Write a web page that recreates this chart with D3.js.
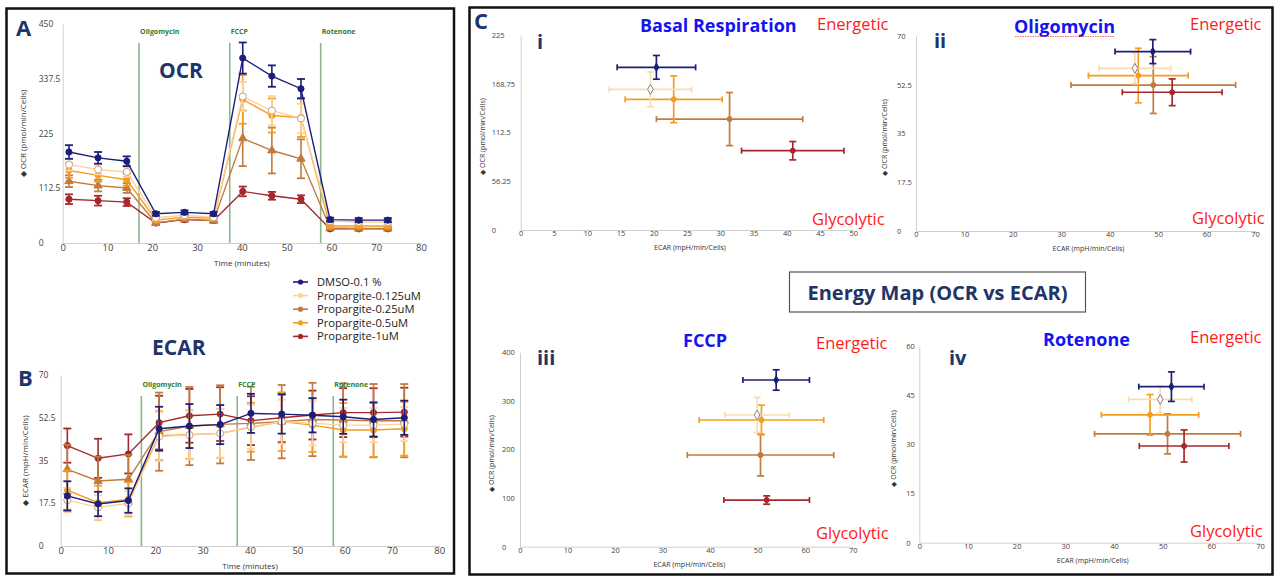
<!DOCTYPE html>
<html>
<head>
<meta charset="utf-8">
<script src="https://cdn.jsdelivr.net/npm/d3@7"></script>
<style>
  body { margin: 0; background: #fff; }
  svg text { font-family: "Open Sans", sans-serif; }
</style>
</head>
<body>
<svg id="fig" width="1276" height="577"></svg>
<script>
// groups (same order everywhere)
var groups = ["DMSO-0.1 %", "Propargite-0.125uM", "Propargite-0.25uM", "Propargite-0.5uM", "Propargite-1uM"]
var colors = ["#1c1f7a", "#fcd39e", "#c27b3d", "#f59d1f", "#a5282c"]

// time course (minutes)
var times = [1.4, 7.9, 14.3, 20.8, 27.2, 33.7, 40.2, 46.7, 53.2, 59.7, 66.1, 72.6]
var injections = ["Oligomycin", "FCCP", "Rotenone"]
var injectTimes = [17.05, 37.3, 57.6]

// OCR (pmol/min/Cells)
var ocrDmso = [187, 175, 168, 60, 63, 60, 380, 343, 317, 48, 47, 47]
var ocr0125 = [161, 151, 146, 52, 57, 53, 301, 272, 256, 45, 43, 43]
var ocr025  = [127, 118, 113, 41, 49, 46, 215, 190, 173, 31, 30, 30]
var ocr05   = [149, 139, 130, 47, 53, 51, 295, 262, 258, 35, 35, 35]
var ocr1    = [90, 87, 84, 41, 48, 46, 106, 97, 90, 29, 29, 29]
var ocrErrDmso = [14, 12, 10, 4, 4, 4, 32, 22, 20, 4, 4, 4]
var ocrErr0125 = [12, 10, 10, 5, 5, 5, 30, 30, 30, 5, 5, 5]
var ocrErr025  = [12, 12, 10, 4, 4, 4, 57, 47, 40, 4, 4, 4]
var ocrErr05   = [15, 13, 12, 4, 4, 4, 50, 35, 40, 4, 4, 4]
var ocrErr1    = [10, 10, 8, 4, 4, 4, 10, 8, 8, 3, 3, 3]

// ECAR (mpH/min/Cells)
var ecarDmso = [20.5, 17.2, 18.6, 48.0, 49.1, 49.7, 54.3, 54.0, 53.5, 52.9, 51.8, 52.5]
var ecar0125 = [18.8, 15.8, 17.5, 44.8, 45.4, 46.1, 48.8, 50.9, 50.2, 49.5, 49.5, 49.9]
var ecar025  = [31.4, 26.6, 27.3, 46.8, 49.1, 49.8, 50.2, 50.9, 51.8, 51.6, 51.3, 51.3]
var ecar05   = [22.9, 17.7, 19.1, 45.2, 45.6, 46.1, 48.6, 50.9, 49.5, 47.5, 47.5, 48.0]
var ecar1    = [41.1, 35.9, 37.7, 50.5, 53.3, 54.0, 51.3, 52.5, 53.6, 54.6, 54.6, 54.8]
var ecarErrDmso = [6, 5, 5, 9, 9, 8, 8, 8, 7, 7, 7, 7]
var ecarErr0125 = [5, 5, 5, 10, 10, 10, 9, 9, 9, 7, 7, 7]
var ecarErr025  = [10, 10, 10, 16, 16, 16, 15, 15, 15, 15, 15, 15]
var ecarErr05   = [8, 7, 7, 10, 10, 10, 10, 12, 11, 11, 11, 11]
var ecarErr1    = [7, 8, 8, 11, 11, 11, 10, 10, 10, 10, 10, 10]

// energy maps: ECAR x, OCR y (groups order)
var basalEcar = [20.4, 19.5, 31.4, 23.0, 40.9]
var basalEcarErr = [5.9, 6.2, 11, 7.3, 7.7]
var basalOcr = [187.7, 162.3, 128, 150.8, 91.5]
var basalOcrErr = [13.7, 20, 30.6, 27, 10.6]

var oligoEcar = [48.9, 45.2, 49.0, 45.9, 52.9]
var oligoEcarErr = [7.8, 7.4, 17, 10.3, 10.3]
var oligoOcr = [64.4, 58.4, 52.4, 55.8, 49.8]
var oligoOcrErr = [4.3, 5.5, 10.2, 9.8, 4.8]

var fccpEcar = [53.9, 49.9, 50.6, 50.8, 51.9]
var fccpEcarErr = [7, 6.8, 15.4, 13.1, 9]
var fccpOcr = [343, 271, 188.7, 260.7, 96]
var fccpOcrErr = [21, 36, 43, 30.5, 8.6]

var rotEcar = [51.8, 49.5, 51.0, 47.4, 54.4]
var rotEcarErr = [6.7, 6.5, 15, 10, 9.2]
var rotOcr = [47.6, 43.7, 33.2, 39, 29.5]
var rotOcrErr = [4.5, 4, 6.1, 6.2, 4.9]

var svg = d3.select("#fig")
var navy = "#1f3468"

// panel frames
svg.append("rect").attr("x", 6.5).attr("y", 8.5).attr("width", 447.5).attr("height", 565)
  .attr("fill", "none").attr("stroke", "#111").attr("stroke-width", 2.5)
svg.append("rect").attr("x", 469.5).attr("y", 7.5).attr("width", 803).attr("height", 567)
  .attr("fill", "none").attr("stroke", "#111").attr("stroke-width", 2.5)

function bigLabel(x, y, txt, size, color) {
  return svg.append("text").attr("x", x).attr("y", y).text(txt)
    .attr("font-family", "Lato, sans-serif").attr("font-weight", "bold")
    .attr("font-size", size).attr("fill", color)
}

function leftAxis(g, y, x0, ticks, off, size) {
  g.append("g").attr("transform", `translate(${x0},0)`)
    .call(d3.axisLeft(y).tickValues(ticks).tickFormat(d => d).tickSize(0).tickSizeOuter(0))
    .call(a => a.select(".domain").attr("stroke", "#cfcfcf"))
    .call(a => a.selectAll("text").attr("text-anchor", "start").attr("x", -off)
      .attr("font-size", size).attr("fill", "#444"))
}

function bottomAxis(g, x, y0, ticks, size) {
  g.append("g").attr("transform", `translate(0,${y0})`)
    .call(d3.axisBottom(x).tickValues(ticks).tickSize(0).tickSizeOuter(0).tickPadding(1))
    .call(a => a.select(".domain").attr("stroke", "#cfcfcf"))
    .call(a => a.selectAll("text").attr("font-size", size).attr("fill", "#444"))
}

function yTitle(x, cy, txt, size) {
  svg.append("text").attr("transform", `translate(${x},${cy}) rotate(-90)`)
    .attr("text-anchor", "middle").attr("font-size", size).attr("fill", "#333")
    .text("\u25C6  " + txt)
}

function timeChart(cfg) {
  var x = d3.scaleLinear().domain([0, 80]).range(cfg.xr)
  var y = d3.scaleLinear().domain([0, cfg.ymax]).range(cfg.yr)
  var g = svg.append("g")
  bottomAxis(g, x, cfg.yr[0], d3.range(0, 81, 10), 9.5)
  leftAxis(g, y, cfg.xr[0], cfg.yticks, cfg.labOff, 8.5)
  yTitle(cfg.titleX, (cfg.yr[0] + cfg.yr[1]) / 2, cfg.yTitle, 8)
  g.append("text").attr("x", (cfg.xr[0] + cfg.xr[1]) / 2).attr("y", cfg.yr[0] + 23)
    .attr("text-anchor", "middle").attr("font-size", 8).attr("fill", "#333").text("Time (minutes)")

  // injection markers
  injectTimes.forEach(function(t, k) {
    g.append("line").attr("x1", x(t)).attr("x2", x(t)).attr("y1", cfg.injTop).attr("y2", cfg.yr[0])
      .attr("stroke", "#8db58d").attr("stroke-width", 1.6)
  })

  var line = d3.line().x((d, i) => x(times[i])).y(d => y(d))
  var order = [4, 2, 3, 1, 0]
  order.forEach(function(s) {
    var c = colors[s], m = cfg.means[s], e = cfg.errs[s]
    var sg = g.append("g")
    m.forEach(function(v, i) {
      var px = x(times[i])
      sg.append("line").attr("x1", px).attr("x2", px).attr("y1", y(v - e[i])).attr("y2", y(v + e[i]))
        .attr("stroke", c).attr("stroke-width", 1.6)
      ;[v - e[i], v + e[i]].forEach(function(w) {
        sg.append("line").attr("x1", px - 4).attr("x2", px + 4).attr("y1", y(w)).attr("y2", y(w))
          .attr("stroke", c).attr("stroke-width", 1.8)
      })
    })
    sg.append("path").datum(m).attr("d", line).attr("fill", "none").attr("stroke", c).attr("stroke-width", 1.4)
    var sym = s === 2 ? d3.symbolTriangle : d3.symbolCircle
    sg.selectAll("path.mk").data(m).join("path").attr("class", "mk")
      .attr("transform", (d, i) => `translate(${x(times[i])},${y(d)})`)
      .attr("d", d3.symbol().type(sym).size(s === 1 ? 40 : 30))
      .attr("fill", s === 1 ? "#fff" : c)
      .attr("stroke", s === 1 ? "#c9a27a" : c).attr("stroke-width", 1)
  })

  injectTimes.forEach(function(t, k) {
    g.append("text").attr("x", x(t) + 1).attr("y", cfg.injTop - 9).text(injections[k])
      .attr("font-size", 7).attr("font-weight", "bold").attr("fill", "#2e7d32")
  })
}

timeChart({
  xr: [62.7, 421], yr: [243, 24], ymax: 450, yticks: [0, 112.5, 225, 337.5, 450], labOff: 24,
  titleX: 26, yTitle: "OCR (pmol/min/Cells)", injTop: 43,
  means: [ocrDmso, ocr0125, ocr025, ocr05, ocr1],
  errs: [ocrErrDmso, ocrErr0125, ocrErr025, ocrErr05, ocrErr1]
})
timeChart({
  xr: [60.7, 439.3], yr: [546, 375], ymax: 70, yticks: [0, 17.5, 35, 52.5, 70], labOff: 22,
  titleX: 28, yTitle: "ECAR (mpH/min/Cells)", injTop: 396,
  means: [ecarDmso, ecar0125, ecar025, ecar05, ecar1],
  errs: [ecarErrDmso, ecarErr0125, ecarErr025, ecarErr05, ecarErr1]
})

bigLabel(16, 36, "A", 22, navy)
bigLabel(159, 78, "OCR", 21, navy)
bigLabel(18, 386, "B", 22, navy)
bigLabel(152, 355, "ECAR", 21, navy)

// legend
groups.forEach(function(name, i) {
  var ly = 282 + i * 13.6
  var lg = svg.append("g")
  lg.append("line").attr("x1", 293).attr("x2", 308).attr("y1", ly).attr("y2", ly)
    .attr("stroke", colors[i]).attr("stroke-width", 1.6)
  lg.append("circle").attr("cx", 300.5).attr("cy", ly).attr("r", 2.6).attr("fill", colors[i])
  lg.append("text").attr("x", 317).attr("y", ly + 4).text(name)
    .attr("font-family", "Liberation Sans, Arial, sans-serif").attr("font-size", 11.2).attr("fill", "#222")
})

// energy maps
function energyMap(cfg) {
  var x = d3.scaleLinear().domain([0, cfg.xmax]).range(cfg.xr)
  var y = d3.scaleLinear().domain([0, cfg.ymax]).range(cfg.yr)
  var g = svg.append("g")
  bottomAxis(g, x, cfg.yr[0], d3.range(0, cfg.xmax + 1, cfg.xstep), 7.5)
  leftAxis(g, y, cfg.xr[0], cfg.yticks, cfg.labOff, 7.5)
  yTitle(cfg.titleX, (cfg.yr[0] + cfg.yr[1]) / 2 + 4, "OCR (pmol/min/Cells)", 7)
  g.append("text").attr("x", (cfg.xr[0] + cfg.xr[1]) / 2 + 3).attr("y", cfg.yr[0] + 20)
    .attr("text-anchor", "middle").attr("font-size", 7).attr("fill", "#333").text("ECAR (mpH/min/Cells)")

  var order = [2, 3, 4, 1, 0]
  order.forEach(function(s) {
    var c = s === 1 ? "#fbdcae" : colors[s]
    var px = x(cfg.ex[s]), py = y(cfg.oy[s])
    var x0 = x(cfg.ex[s] - cfg.exErr[s]), x1 = x(cfg.ex[s] + cfg.exErr[s])
    var y0 = y(cfg.oy[s] - cfg.oyErr[s]), y1 = y(cfg.oy[s] + cfg.oyErr[s])
    var sg = g.append("g").attr("stroke", c).attr("stroke-width", 1.7)
    sg.append("line").attr("x1", x0).attr("x2", x1).attr("y1", py).attr("y2", py)
    sg.append("line").attr("x1", px).attr("x2", px).attr("y1", y0).attr("y2", y1)
    ;[x0, x1].forEach(v => sg.append("line").attr("x1", v).attr("x2", v).attr("y1", py - 3).attr("y2", py + 3))
    ;[y0, y1].forEach(v => sg.append("line").attr("x1", px - 3.5).attr("x2", px + 3.5).attr("y1", v).attr("y2", v))
    var sym = (s === 0 || s === 1) ? d3.symbolDiamond : d3.symbolCircle
    g.append("path").attr("transform", `translate(${px},${py})`)
      .attr("d", d3.symbol().type(sym).size(s === 1 ? 28 : 20))
      .attr("fill", s === 1 ? "#fff" : c)
      .attr("stroke", s === 1 ? "#8a7f78" : c).attr("stroke-width", 1)
  })

  bigLabel(cfg.titlePos[0], cfg.titlePos[1], cfg.title, 18, "#1414f0")
  bigLabel(cfg.numPos[0], cfg.numPos[1], cfg.num, 20, navy)
  svg.append("text").attr("x", cfg.enPos[0]).attr("y", cfg.enPos[1]).text("Energetic")
    .attr("font-family", "Lato, sans-serif").attr("font-size", 16.5).attr("fill", "#ff1a1a")
  svg.append("text").attr("x", cfg.glPos[0]).attr("y", cfg.glPos[1]).text("Glycolytic")
    .attr("font-family", "Lato, sans-serif").attr("font-size", 16.5).attr("fill", "#ff1a1a")
}

energyMap({
  xr: [520.7, 853.3], yr: [230, 35], xmax: 50, xstep: 5, ymax: 225,
  yticks: [0, 56.25, 112.5, 168.75, 225], labOff: 29, titleX: 485,
  ex: basalEcar, exErr: basalEcarErr, oy: basalOcr, oyErr: basalOcrErr,
  title: "Basal Respiration", titlePos: [640, 32], num: "i", numPos: [537, 49],
  enPos: [817, 30], glPos: [812, 225]
})
energyMap({
  xr: [916, 1255], yr: [231, 36], xmax: 70, xstep: 10, ymax: 70,
  yticks: [0, 17.5, 35, 52.5, 70], labOff: 19, titleX: 887,
  ex: oligoEcar, exErr: oligoEcarErr, oy: oligoOcr, oyErr: oligoOcrErr,
  title: "Oligomycin", titlePos: [1014, 33], num: "ii", numPos: [934, 48],
  enPos: [1190, 30], glPos: [1192, 224]
})
energyMap({
  xr: [520, 852.7], yr: [546.7, 352.3], xmax: 70, xstep: 10, ymax: 400,
  yticks: [0, 100, 200, 300, 400], labOff: 18, titleX: 494,
  ex: fccpEcar, exErr: fccpEcarErr, oy: fccpOcr, oyErr: fccpOcrErr,
  title: "FCCP", titlePos: [683, 347], num: "iii", numPos: [537, 365],
  enPos: [816, 349], glPos: [816, 539]
})
energyMap({
  xr: [919.3, 1260], yr: [542.7, 346], xmax: 70, xstep: 10, ymax: 60,
  yticks: [0, 15, 30, 45, 60], labOff: 13, titleX: 896,
  ex: rotEcar, exErr: rotEcarErr, oy: rotOcr, oyErr: rotOcrErr,
  title: "Rotenone", titlePos: [1043, 346], num: "iv", numPos: [949, 365],
  enPos: [1190, 343], glPos: [1190, 537]
})

// spell-check squiggle under "Oligomycin"
svg.append("line").attr("x1", 1015).attr("x2", 1115).attr("y1", 36.5).attr("y2", 36.5)
  .attr("stroke", "#e05050").attr("stroke-width", 0.8).attr("stroke-dasharray", "1.5,1")

bigLabel(474, 29, "C", 22, navy)

// centre caption
svg.append("rect").attr("x", 789.5).attr("y", 272).attr("width", 296).attr("height", 40)
  .attr("fill", "#fff").attr("stroke", "#555").attr("stroke-width", 1.2)
bigLabel(937.5, 300, "Energy Map (OCR vs ECAR)", 20, navy).attr("text-anchor", "middle")
</script>
</body>
</html>
